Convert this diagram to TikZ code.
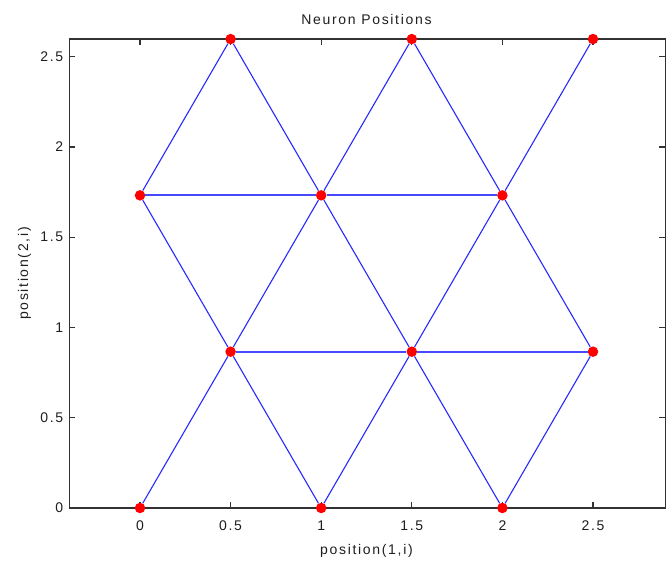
\documentclass[tikz,border=0pt]{standalone}
\usepackage{fontspec}
\setmainfont{Liberation Sans}[LetterSpace=12]
\usetikzlibrary{positioning}
\definecolor{axisgray}{RGB}{50,50,50}
\definecolor{labgray}{RGB}{30,30,30}
\definecolor{linkblue}{RGB}{40,40,255}

\begin{document}
\begin{tikzpicture}[x=181.2pt,y=180.5pt,font=\fontsize{14pt}{16pt}\selectfont,text=labgray,
 neuron/.style={circle,fill=red,inner sep=0pt,minimum size=10.5pt},
 link/.style={draw=linkblue,line width=1.1pt},
 rowlink/.style={link,line width=2pt,draw=linkblue!85},
 axline/.style={draw=axisgray,line width=1.2pt},
 ticklab/.style={inner sep=0pt}]
\useasboundingbox (-0.7726,-0.2936) rectangle (2.9029,2.8144);
\coordinate (lo) at (-0.39,0);
\coordinate (hi) at (2.9,2.598);
\draw[axline] (lo) rectangle (hi);
\foreach \v [count=\k] in {0,0.5,1,1.5,2,2.5}{
  \draw[axline] (\v,0)--++(0,6pt);
  \draw[axline] (\v,2.598)--++(0,-6pt);
  \node[ticklab,anchor=base] (xt\k) at (\v,-0.127) {\v};
  \draw[axline] (-0.39,\v)--++(6pt,0);
  \draw[axline] (2.9,\v)--++(-6pt,0);
  \node[ticklab,anchor=east,xshift=-6pt] (yt\k) at (-0.39,\v) {\v};
}
\node[anchor=base] (title) at (1.25,2.676) {Neuron Positions};
\node[anchor=base] (xlab) at (1.25,-0.2565) {position(1,i)};
\node[anchor=base,rotate=90] (ylab) at (-0.618,1.299) {position(2,i)};
% neurons
\foreach \x/\y [count=\k] in {0/0,1/0,2/0,0.5/0.866,1.5/0.866,2.5/0.866,0/1.732,1/1.732,2/1.732,0.5/2.598,1.5/2.598,2.5/2.598}
  \node[neuron] (n\k) at (\x,\y) {};
\foreach \a/\b in {1/4,2/4,2/5,3/5,3/6,4/7,4/8,5/8,5/9,6/9,7/10,8/10,8/11,9/11,9/12}{\draw[link] (n\a)--(n\b);}
\foreach \a/\b in {4/5,5/6,7/8,8/9}{\draw[rowlink] (n\a)--(n\b);}
\end{tikzpicture}
\end{document}
